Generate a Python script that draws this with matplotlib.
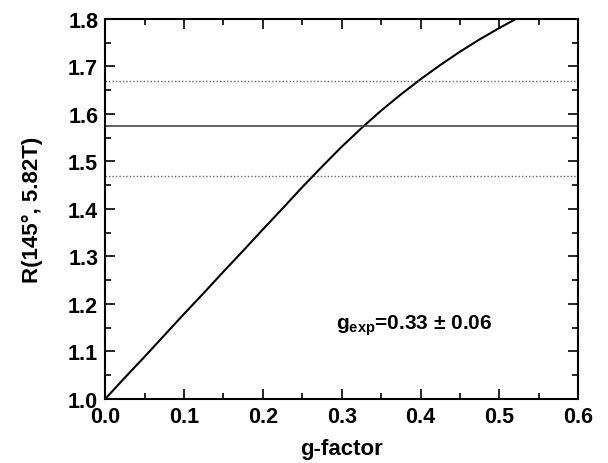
import matplotlib
matplotlib.use("Agg")
import matplotlib.pyplot as plt
from matplotlib.ticker import MultipleLocator

plt.rcParams['font.family'] = ['Liberation Sans', 'DejaVu Sans']
plt.rcParams['font.weight'] = 'bold'
plt.rcParams['mathtext.fontset'] = 'custom'
plt.rcParams['mathtext.rm'] = 'Liberation Sans:bold'
plt.rcParams['mathtext.it'] = 'Liberation Sans:bold'
plt.rcParams['mathtext.bf'] = 'Liberation Sans:bold'

# data
g_factor = [0.0, 0.025, 0.05, 0.075, 0.10, 0.125, 0.15, 0.175, 0.20, 0.225, 0.25,
            0.275, 0.30, 0.325, 0.35, 0.375, 0.40, 0.425, 0.45, 0.475, 0.50, 0.521]
ratio = [1.000, 1.045, 1.089, 1.134, 1.179, 1.223, 1.268, 1.312, 1.357, 1.401, 1.446,
         1.489, 1.531, 1.570, 1.607, 1.641, 1.673, 1.703, 1.731, 1.757, 1.781, 1.800]
r_exp = 1.575
r_low = 1.470
r_high = 1.670
annotation = r'g$_{\rm exp}$=0.33 ± 0.06'

fig = plt.figure(figsize=(6.08, 4.64), dpi=100)
ax = fig.add_axes([0.173, 0.138, 0.778, 0.819])

ax.plot(g_factor, ratio, color='black', lw=1.5)
ax.axhline(r_exp, color='#444444', lw=1.2)
ax.axhline(r_low, color='#666666', lw=1.0, ls=(0, (1, 1.5)))
ax.axhline(r_high, color='#666666', lw=1.0, ls=(0, (1, 1.5)))

ax.text(0.293, 1.147, annotation, fontsize=15, fontweight='bold', va='baseline', ha='left')

ax.set_xlim(0.0, 0.6)
ax.set_ylim(1.0, 1.8)
ax.xaxis.set_major_locator(MultipleLocator(0.1))
ax.xaxis.set_minor_locator(MultipleLocator(0.05))
ax.yaxis.set_major_locator(MultipleLocator(0.1))
ax.yaxis.set_minor_locator(MultipleLocator(0.05))
ax.xaxis.set_major_formatter(plt.FuncFormatter(lambda v, p: f"{v:.1f}"))
ax.yaxis.set_major_formatter(plt.FuncFormatter(lambda v, p: f"{v:.1f}"))

ax.tick_params(which='both', direction='in', top=True, right=True, width=1.2)
ax.tick_params(which='major', length=7, labelsize=15.5, pad=5)
ax.tick_params(which='minor', length=4)
for lab in ax.get_xticklabels() + ax.get_yticklabels():
    lab.set_fontweight('bold')
for s in ax.spines.values():
    s.set_linewidth(1.5)

ax.set_xlabel('g-factor', fontsize=16, fontweight='bold', labelpad=8)
ax.set_ylabel('R(145°, 5.82T)', fontsize=16, fontweight='bold', labelpad=18)

fig.savefig('out.png', dpi=100)
